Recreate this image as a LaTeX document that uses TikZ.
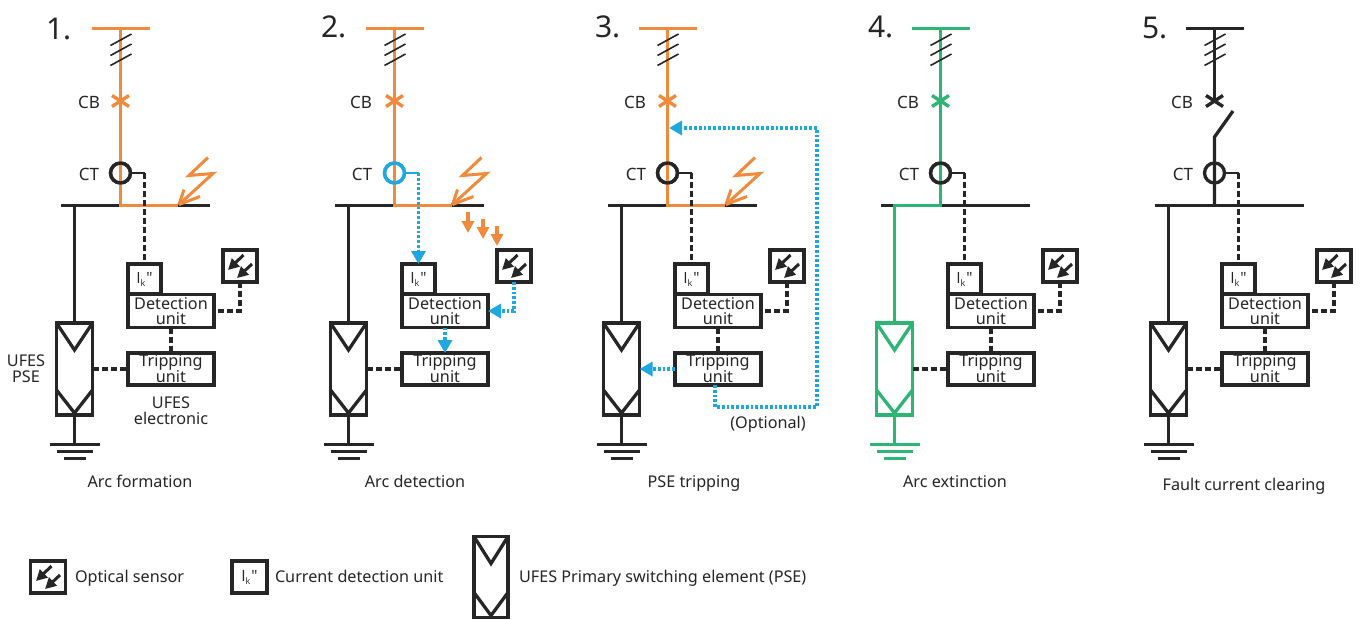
\documentclass[tikz,border=0pt]{standalone}
\usepackage{fontspec}
\setmainfont{Noto Sans}
\newfontfamily\ikfont{Open Sans}
\usetikzlibrary{arrows.meta,shapes.misc}
\definecolor{ink}{HTML}{262626}
\definecolor{arcorange}{HTML}{F08A3C}
\definecolor{sigblue}{HTML}{1FA8E0}
\definecolor{okgreen}{HTML}{2DB573}
\tikzset{
  x=1pt,y=-1pt,
  wire/.style={line width=3.3pt,line cap=butt,draw=#1},
  wire/.default=ink,
  thick box/.style={draw=#1,line width=3.3pt,fill=white,inner sep=0pt,outer sep=0pt,text=ink,align=center},
  thick box/.default=ink,
  dashlink/.style={line width=3.3pt,draw=ink,dash pattern=on 6pt off 3pt},
  dotlink/.style={line width=3.3pt,draw=sigblue,dash pattern=on 2.8pt off 2pt},
  bluehead/.style={-{Triangle[length=13pt,width=14pt,fill=sigblue]}},
  txt/.style={inner sep=0pt,outer sep=0pt,text=ink,font=\fontsize{16.2}{16}\selectfont,align=center},
  num/.style={inner sep=0pt,outer sep=0pt,text=ink,font=\fontsize{30}{30}\selectfont,anchor=west},
  ctcircle/.style={circle,draw=#1,line width=3.3pt,minimum size=20pt,inner sep=0pt,outer sep=0pt},
  cbcross/.style={cross out,draw=#1,line width=3.4pt,minimum width=17pt,minimum height=11pt,inner sep=0pt,outer sep=0pt},
}
\newcommand{\iktext}{{\ikfont\fontsize{15.5}{15.5}\selectfont I\raisebox{-3pt}{\fontsize{9}{9}\selectfont k}\hspace{1pt}"}}
\newcommand{\optsym}[1]{%
  \draw[line width=3pt,ink,-{Triangle[length=11pt,width=11pt]}] ([shift={(3.5,-11)}]#1.center) -- ([shift={(-12,4)}]#1.center);
  \draw[line width=3pt,ink,-{Triangle[length=11pt,width=11pt]}] ([shift={(12,-2)}]#1.center) -- ([shift={(-3,12)}]#1.center);
}
\newcommand{\psesym}[3]{% name, colour, top depth
  \draw[line width=3.3pt,#2,line join=miter] (#1.north west) -- ([yshift=-#3pt]#1.north) -- (#1.north east);
  \draw[line width=3.3pt,#2,line join=miter] ([yshift=25pt]#1.south west) -- ([yshift=2pt]#1.south) -- ([yshift=25pt]#1.south east);
}
% #1 name, #2 shift, #3 feeder colour, #4 CT colour, #5 PSE branch colour
\newcommand{\panel}[5]{%
\begin{scope}[xshift=#2pt]
  \coordinate (top#1) at (120.5,28.5);
  \coordinate (tee#1) at (120.5,205.5);
  \coordinate (bw#1) at (61,205.5);
  \coordinate (be#1) at (209.5,205.5);
  \coordinate (br#1) at (74.5,205.5);
  \coordinate (tail#1) at (144.5,173);
  \coordinate (gnd#1) at (74.5,444.5);
  \node[cbcross=#3] (cb#1) at (120.5,101) {};
  \node[ctcircle=#4] (ct#1) at (120.5,173) {};
  \node[thick box,minimum width=33pt,minimum height=30pt] (ik#1) at (144.5,279) {\iktext};
  \node[thick box,minimum width=86pt,minimum height=33pt,font=\fontsize{16.2}{15}\selectfont] (det#1) at (171,311) {Detection\\unit};
  \node[thick box,minimum width=86pt,minimum height=32pt,font=\fontsize{16.2}{15}\selectfont] (trip#1) at (171,369) {Tripping\\[-1pt]unit};
  \node[thick box,minimum width=34pt,minimum height=32pt] (opt#1) at (240,266) {};
  \optsym{opt#1}
  \node[thick box=#5,minimum width=36pt,minimum height=92pt] (pse#1) at (74.5,369) {};
  \psesym{pse#1}{#5}{27}
  \draw[wire] (bw#1) -- (be#1);
  \draw[wire=#3,line cap=butt] ([xshift=-28.5pt]top#1) -- ([xshift=29.5pt]top#1);
  \draw[wire=#5] (br#1) -- (pse#1.north);
  \draw[wire=#5] (pse#1.south) -- (gnd#1);
  \draw[wire=#5] ([xshift=-25pt]gnd#1) -- ([xshift=25pt]gnd#1);
  \draw[wire=#5] ([shift={(-18,7)}]gnd#1) -- ([shift={(18,7)}]gnd#1);
  \draw[wire=#5] ([shift={(-11,14)}]gnd#1) -- ([shift={(11,14)}]gnd#1);
  \draw[line width=2.6pt,#4] (ct#1.east) -- (tail#1);
\end{scope}}
\newcommand{\slashes}[1]{%
  \foreach \d in {0,10,20}{\draw[line width=1.6pt,ink] ([shift={(-10,17+\d)}]top#1) -- ([shift={(11,5.5+\d)}]top#1);}}
\newcommand{\bolt}[1]{%
  \begin{scope}[shift={(bolt#1)}]
    \draw[line width=3pt,arcorange,line join=miter] (30,-48) -- (11,-30) -- (35,-32) -- (1,-1);
    \draw[line width=3pt,arcorange] (1,-1) -- (6,-16);
    \draw[line width=3pt,arcorange] (1,-1) -- (22,-9);
  \end{scope}}
\newcommand{\stdlinks}[1]{%
  \draw[dashlink] (tail#1) -- (ik#1.north);
  \draw[dashlink] (opt#1.south) |- (det#1.east);
  \draw[dashlink] (det#1.south) -- (trip#1.north);
  \draw[dashlink] (pse#1.east) -- (trip#1.west);}
\begin{document}
\begin{tikzpicture}
\useasboundingbox (0,0) rectangle (1362,619);
\fill[white] (0,0) rectangle (1362,619);

% ---------- panel 1
\panel{1}{0}{arcorange}{ink}{ink}
\coordinate (bolt1) at (178,205.5);
\draw[wire=arcorange] (top1) -- (cb1.center) -- (ct1.center) -- (tee1) -- (bolt1);
\bolt{1}\slashes{1}\stdlinks{1}
\node[ctcircle=ink] at (ct1) {};

% ---------- panel 2
\panel{2}{274}{arcorange}{sigblue}{ink}
\coordinate (bolt2) at (451.5,205.5);
\draw[wire=arcorange] (top2) -- (cb2.center) -- (ct2.center) -- (tee2) -- (bolt2);
\bolt{2}\slashes{2}
\node[ctcircle=sigblue] at (ct2) {};
\draw[dashlink] (pse2.east) -- (trip2.west);
\draw[dotlink,bluehead] (tail2) -- (ik2.north);
\draw[dotlink,bluehead] (opt2.south) |- (det2.east);
\draw[dotlink,bluehead] (det2.south) -- (trip2.north);
\coordinate (ar1a) at (468,212); \coordinate (ar1b) at (468,233);
\coordinate (ar2a) at (483,219); \coordinate (ar2b) at (483,239);
\coordinate (ar3a) at (497,226); \coordinate (ar3b) at (497,246);
\foreach \n in {1,2,3}{\draw[line width=3.3pt,arcorange,-{Triangle[length=12pt,width=12pt]}] (ar\n a) -- (ar\n b);}

% ---------- panel 3
\panel{3}{547}{arcorange}{ink}{ink}
\coordinate (bolt3) at (725,205.5);
\draw[wire=arcorange] (top3) -- (cb3.center) -- (ct3.center) -- (tee3) -- (bolt3);
\bolt{3}\slashes{3}
\node[ctcircle=ink] at (ct3) {};
\draw[dashlink] (tail3) -- (ik3.north);
\draw[dashlink] (opt3.south) |- (det3.east);
\draw[dashlink] (det3.south) -- (trip3.north);
\draw[dotlink,bluehead] (trip3.west) -- (pse3.east);
\coordinate (v1) at (715,407); \coordinate (v2) at (817,407);
\coordinate (v3) at (817,128); \coordinate (v4) at (669,128);
\draw[dotlink,bluehead] (v1 |- trip3.south) -- (v1) -- (v2) -- (v3) -- (v4);

% ---------- panel 4
\panel{4}{820}{okgreen}{ink}{okgreen}
\draw[wire=okgreen] (top4) -- (cb4.center) -- (ct4.center) -- (tee4) -- ([xshift=-1.65pt]br4);
\slashes{4}
\node[ctcircle=ink] at (ct4) {};
\stdlinks{4}

% ---------- panel 5
\panel{5}{1094}{ink}{ink}{ink}
\coordinate (hinge5) at (1214.5,137);
\coordinate (blade5) at (1233,111);
\draw[wire] (top5) -- (cb5.center);
\draw[wire] (blade5) -- (hinge5) -- (ct5.center) -- (tee5);
\slashes{5}\stdlinks{5}

% ---------- labels
\node[num] (n1) at (46,29) {1.};
\node[num] (n2) at (321,27) {2.};
\node[num] (n3) at (595,27) {3.};
\node[num] (n4) at (868,27) {4.};
\node[num] (n5) at (1142,28) {5.};
\foreach \x/\n in {100/a,372/b,646/c,919/d,1193/e}{
  \node[txt,anchor=east,font=\fontsize{17}{17}\selectfont] (cbl\n) at (\x,102) {CB};}
\foreach \x/\n in {99/a,372/b,646/c,919/d,1193/e}{
  \node[txt,anchor=east,font=\fontsize{17}{17}\selectfont] (ctl\n) at (\x,174) {CT};}
\node[txt] (ufesp) at (26,369) {UFES\\PSE};
\node[txt] (ufese) at (171,411) {UFES\\electronic};
\node[txt,anchor=base] (opttext) at (768,428) {(Optional)};
\node[txt,anchor=base] (cap1) at (140,487) {Arc formation};
\node[txt,anchor=base] (cap2) at (415,487) {Arc detection};
\node[txt,anchor=base] (cap3) at (694,487) {PSE tripping};
\node[txt,anchor=base] (cap4) at (955,487) {Arc extinction};
\node[txt,anchor=base] (cap5) at (1244,490) {Fault current clearing};

% ---------- legend
\node[thick box,minimum width=35pt,minimum height=32pt] (lopt) at (48,577) {};
\optsym{lopt}
\node[txt,anchor=base west] (lopttext) at (75,582.5) {Optical sensor};
\node[thick box,minimum width=35pt,minimum height=32pt] (lik) at (249.5,577) {\iktext};
\node[txt,anchor=base west] (liktext) at (275,582.5) {Current detection unit};
\node[thick box,minimum width=34pt,minimum height=81pt] (lpse) at (491,577) {};
\psesym{lpse}{ink}{27}
\node[txt,anchor=base west] (lpsetext) at (519,582.5) {UFES Primary switching element (PSE)};
\end{tikzpicture}
\end{document}
